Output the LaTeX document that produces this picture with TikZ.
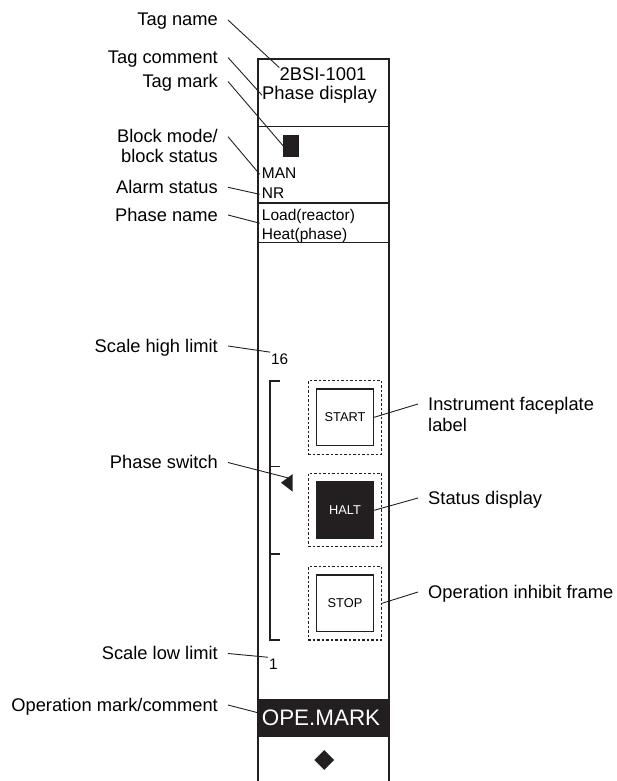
\documentclass[tikz,border=0pt]{standalone}
\usepackage{fontspec}
\setmainfont{Liberation Sans}
\usetikzlibrary{shapes.geometric}
\definecolor{ink}{HTML}{231F20}
\begin{document}
\begin{tikzpicture}[x=1pt,y=-1pt,
  lbl/.style={font=\fontsize{18.3}{22}\selectfont, text height=13pt, text depth=1pt, inner xsep=10pt, inner ysep=0pt},
  lblL/.style={lbl, anchor=base east},
  lblR/.style={lbl, anchor=base west},
  leader/.style={draw=ink, line width=0.9pt},
  panel/.style={draw=ink, line width=1.6pt},
  big/.style={font=\fontsize{18.4}{22}\selectfont, inner sep=0pt},
  mid/.style={font=\fontsize{15.5}{18}\selectfont, inner xsep=2pt, inner ysep=0pt, text height=11pt, text depth=3pt},
  btn/.style={draw=ink, line width=1.2pt, minimum width=57pt, minimum height=56.7pt, inner sep=0pt, font=\fontsize{12.8}{15}\selectfont},
  frame/.style={draw=ink, line width=1.1pt, dash pattern=on 2.5pt off 2pt, minimum width=73.3pt, minimum height=73.3pt, inner sep=0pt},
  scl/.style={font=\fontsize{15.3}{18}\selectfont, inner sep=1pt}
]
\useasboundingbox (0,0) rectangle (616,781);

% panel
\draw[panel] (258,781) -- (258,59) -- (389,59) -- (389,781);
\draw[panel] (258,126.7) -- (389,126.7);
\draw[panel] (258,202.7) -- (389,202.7);
\draw[panel] (258,242.5) -- (389,242.5);

% panel texts
\node[big, anchor=base] (tagtext) at (323,80.7) {2BSI-1001};
\node[big, anchor=base west] (comtext) at (262,100) {Phase display};
\node[fill=ink, minimum width=16pt, minimum height=21.7pt, inner sep=0pt] (tagmark) at (291.3,145.8) {};
\node[mid, anchor=base west] (man) at (259.7,178.3) {MAN};
\node[mid, anchor=base west] (nr) at (259.7,198.3) {NR};
\node[mid, anchor=base west] (load) at (259.7,220) {Load(reactor)};
\node[mid, anchor=base west] (heat) at (259.7,239) {Heat(phase)};

% scale
\node[scl, anchor=base west] (hi) at (270,364) {16};
\node[scl, anchor=base west] (lo) at (268,669) {1};
\draw[draw=ink, line width=1.2pt] (280,381) -- (270,381) -- (270,640) -- (280,640);
\draw[draw=ink, line width=1.2pt] (270,466.7) -- (280,466.7);
\draw[draw=ink, line width=1.2pt] (270,554) -- (280,554);
\fill[ink] (281,482.7) -- (292.7,474) -- (292.7,491.7) -- cycle;
\coordinate (swtip) at (288.5,478);

% buttons
\node[frame] (f1) at (344.8,417.5) {};
\node[frame] (f2) at (344.8,510) {};
\node[frame] (f3) at (344.8,603.3) {};
\node[btn] (b1) at (345,417.3) {START};
\node[btn, fill=ink, text=white] (b2) at (345,510.3) {HALT};
\node[btn] (b3) at (345,603.3) {STOP};

% operation mark band
\node[fill=ink, minimum width=131pt, minimum height=37.7pt, inner sep=0pt] (ope) at (323.5,717.8) {};
\node[text=white, inner sep=0pt, font=\fontsize{22.4}{26}\selectfont] (opetext) at (321,717.8) {OPE.MARK};
\node[diamond, fill=ink, minimum width=20pt, minimum height=20pt, inner sep=0pt] (dia) at (324.3,760) {};

% left labels
\node[lblL] (lTag) at (228,26) {Tag name};
\node[lblL] (lCom) at (228,63.5) {Tag comment};
\node[lblL] (lMark) at (228,87.5) {Tag mark};
\node[lblL] (lMode) at (228,142.7) {Block mode/};
\node[lblL] (lMode2) at (228,162.7) {block status};
\node[lblL] (lAlarm) at (228,193.3) {Alarm status};
\node[lblL] (lPhase) at (228,221) {Phase name};
\node[lblL] (lHi) at (228,352) {Scale high limit};
\node[lblL] (lSw) at (228,468.5) {Phase switch};
\node[lblL] (lLo) at (228,659.5) {Scale low limit};
\node[lblL] (lOpe) at (228,711) {Operation mark/comment};

% right labels
\node[lblR] (rIfl) at (418,410) {Instrument faceplate};
\node[lblR] (rIfl2) at (418,431) {label};
\node[lblR] (rSt) at (418,504) {Status display};
\node[lblR] (rOp) at (418,598) {Operation inhibit frame};

% leaders
\draw[leader] (lTag.east) -- (tagtext.north west);
\draw[leader] (lCom.east) -- (comtext.west);
\draw[leader] (lMark.east) -- (tagmark.west);
\draw[leader] (lMode.east) -- (man.west);
\draw[leader] (lAlarm.east) -- (nr.west);
\draw[leader] (lPhase.east) -- (load.south west);
\draw[leader] (lHi.east) -- (hi.north west);
\draw[leader] (lSw.east) -- (swtip);
\draw[leader] (lLo.east) -- (lo.north west);
\draw[leader] (lOpe.east) -- (ope.west |- 0,712.7);
\draw[leader] (rIfl.west) -- (b1.east);
\draw[leader] (rSt.west) -- (b2.east);
\draw[leader] (rOp.west) -- (f3.east);
\end{tikzpicture}
\end{document}
